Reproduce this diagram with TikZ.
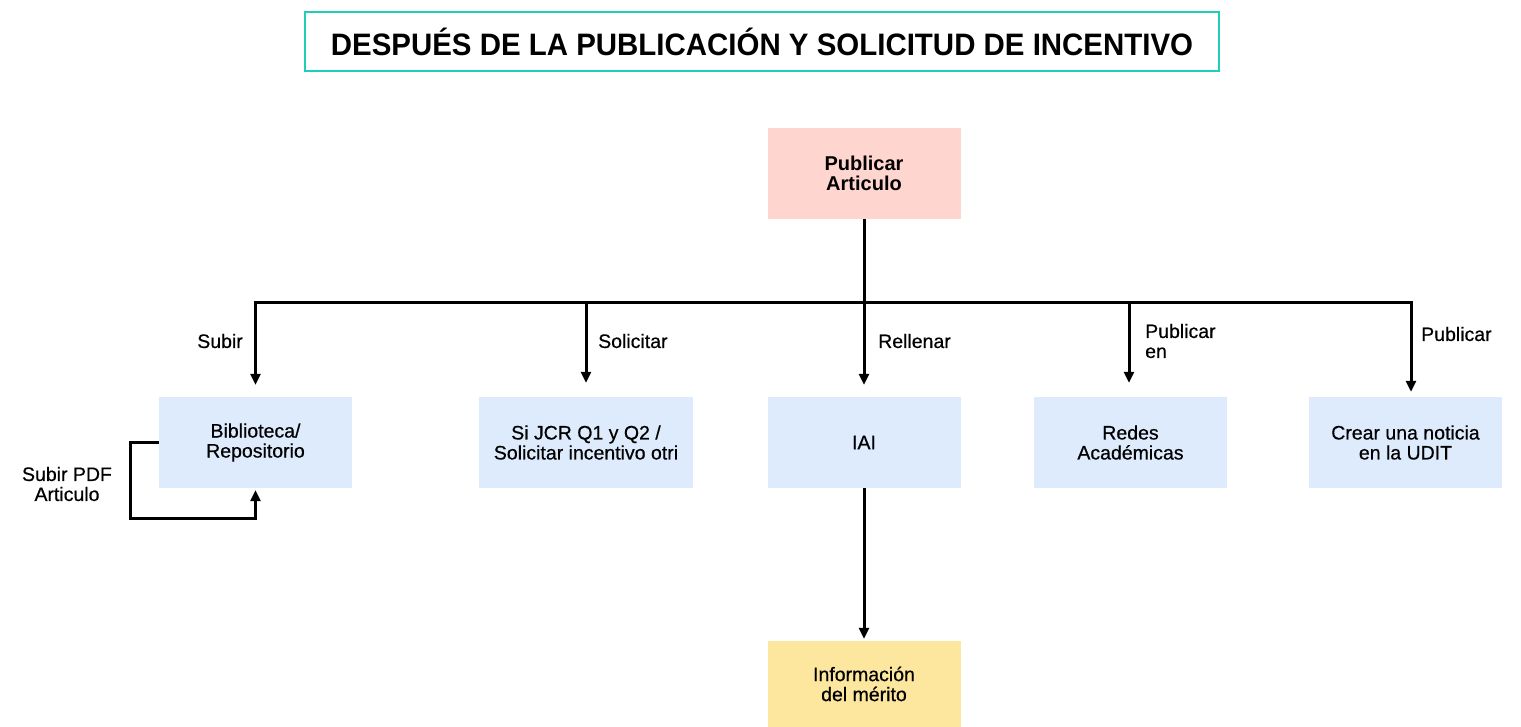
\documentclass[tikz,border=0pt]{standalone}
\usepackage{fontspec}
\setmainfont{Liberation Sans}
\newfontfamily\medfont{Liberation Sans}[FakeBold=0.5]
\usetikzlibrary{arrows.meta}
\definecolor{teal1}{RGB}{30,206,182}
\definecolor{pinkbox}{RGB}{255,214,207}
\definecolor{bluebox}{RGB}{221,235,252}
\definecolor{yellowbox}{RGB}{253,230,158}
\begin{document}
\begin{tikzpicture}[x=1pt,y=-1pt,
  box/.style={minimum width=193pt, minimum height=91pt, inner sep=0pt, align=center,
    font=\medfont\fontsize{19.5}{20}\selectfont},
  line/.style={line width=3pt},
  conn/.style={line width=3pt, -{Triangle[length=11pt,width=10pt]}},
  lbl/.style={font=\medfont\fontsize{19.5}{20}\selectfont, align=left, inner sep=0pt},
  titlebox/.style={draw=teal1, line width=2.8pt, minimum width=914pt, minimum height=59pt, inner sep=0pt}]
\useasboundingbox (0,0) rectangle (1521,727);

\node[titlebox] (title) at (762,41.5)
  {\scalebox{0.95}[1]{\fontsize{31}{36}\selectfont\bfseries DESPUÉS DE LA PUBLICACIÓN Y SOLICITUD DE INCENTIVO}};

\node[box, fill=pinkbox, font=\fontsize{20}{20}\selectfont\bfseries] (pub) at (864,173.5) {Publicar\\Articulo};
\node[box, fill=bluebox] (bib) at (255.5,442.5) {Biblioteca/\\Repositorio};
\node[box, fill=bluebox, minimum width=214pt] (jcr) at (586,442.5) {Si JCR Q1 y Q2 /\\Solicitar incentivo otri};
\node[box, fill=bluebox] (iai) at (864,442.5) {IAI};
\node[box, fill=bluebox] (redes) at (1130.5,442.5) {Redes\\Académicas};
\node[box, fill=bluebox] (crear) at (1405.5,442.5) {Crear una noticia\\en la UDIT};
\node[box, fill=yellowbox, minimum height=86pt] (info) at (864,684) {Información\\del mérito};

\coordinate (j) at (864,303);
\coordinate (d4) at (1129,303);
\coordinate (d5) at (1411,303);
\coordinate (lp) at (130,518);

\draw[line] (pub.south) -- (j);
\draw[conn, shorten >=12pt] (j) -| (bib.north);
\draw[conn, shorten >=5pt] (j) -| (d5 |- crear.north);
\draw[conn, shorten >=14pt] (jcr.north |- j) -- (jcr.north);
\draw[conn, shorten >=12pt] (j) -- (iai.north);
\draw[conn, shorten >=14pt] (d4) -- (d4 |- redes.north);
\draw[conn, shorten >=2pt] (iai.south) -- (info.north);
\draw[conn, shorten >=2pt] (bib.west) -| (lp) -| (bib.south);

\node[lbl, anchor=east] (l1) at (243,341) {Subir};
\node[lbl, anchor=west] (l2) at (598,341) {Solicitar};
\node[lbl, anchor=west] (l3) at (878,341) {Rellenar};
\node[lbl, anchor=west] (l4) at (1145,341) {Publicar\\en};
\node[lbl, anchor=west] (l5) at (1421,334) {Publicar};
\node[lbl, align=center] (l6) at (67,484) {Subir PDF\\Articulo};
\end{tikzpicture}
\end{document}
